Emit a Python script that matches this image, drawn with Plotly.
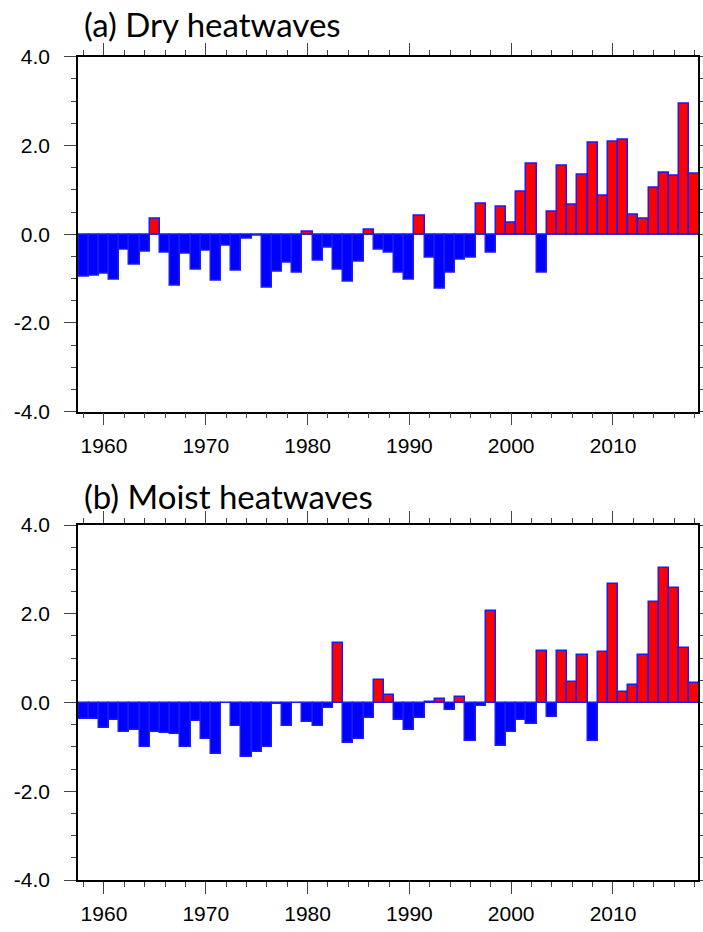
import plotly.graph_objects as go

years = list(range(1958, 2019))

dry = [-0.96, -0.93, -0.90, -1.02, -0.35, -0.69, -0.39, 0.35, -0.41, -1.17,
       -0.45, -0.79, -0.38, -1.05, -0.26, -0.83, -0.11, -0.04, -1.20, -0.84,
       -0.64, -0.86, 0.06, -0.59, -0.30, -0.80, -1.08, -0.63, 0.11, -0.34,
       -0.41, -0.87, -1.02, 0.42, -0.54, -1.22, -0.87, -0.58, -0.54, 0.68,
       -0.42, 0.61, 0.25, 0.96, 1.59, -0.87, 0.50, 1.54, 0.66, 1.35,
       2.06, 0.87, 2.09, 2.14, 0.44, 0.35, 1.05, 1.39, 1.31, 2.94,
       1.37]

moist = [-0.37, -0.37, -0.57, -0.39, -0.66, -0.61, -1.00, -0.66, -0.68, -0.71,
         -1.00, -0.41, -0.83, -1.17, -0.01, -0.53, -1.22, -1.12, -1.00, -0.04,
         -0.52, -0.02, -0.44, -0.53, -0.12, 1.33, -0.92, -0.82, -0.34, 0.51,
         0.18, -0.40, -0.61, -0.35, 0.02, 0.08, -0.16, 0.13, -0.86, -0.08,
         2.07, -0.97, -0.67, -0.40, -0.48, 1.15, -0.32, 1.16, 0.47, 1.07,
         -0.86, 1.13, 2.67, 0.23, 0.40, 1.07, 2.27, 3.03, 2.57, 1.22,
         0.45]

titles = ["(a) Dry heatwaves", "(b) Moist heatwaves"]
y_ticks = [-4, -2, 0, 2, 4]
y_ticklabels = ["-4.0", "-2.0", "0.0", "2.0", "4.0"]
x_ticks = [1960, 1970, 1980, 1990, 2000, 2010]

W, H = 703, 932
L, R = 77.5, 4.5
plot_w = W - L - R

def col(v):
    return "#ff0000" if v > 0 else "#0000ff"

fig = go.Figure()
for i, (vals, ax) in enumerate([(dry, ""), (moist, "2")]):
    fig.add_trace(go.Bar(
        x=years, y=vals, width=1.0,
        marker=dict(color=[col(v) for v in vals],
                    line=dict(color="#1a1aff", width=1.5)),
        xaxis="x" + ax, yaxis="y" + ax, showlegend=False,
    ))

# pixel domains
dom_a = (56.7, 411.7)
dom_b = (525.0, 880.0)

def ydom(d):
    return [1 - d[1] / H, 1 - d[0] / H]

common_x = dict(
    range=[1957.45, 2018.35], tickmode="array", tickvals=x_ticks,
    ticktext=[str(t) for t in x_ticks],
    ticks="outside", ticklen=12, tickwidth=1, tickcolor="#444",
    showline=True, linecolor="black", linewidth=1.5, mirror="allticks",
    showgrid=False, zeroline=False, automargin=False,
    minor=dict(dtick=2, tick0=1958, ticks="outside", ticklen=5, tickwidth=1,
               tickcolor="#444", showgrid=False),
    tickfont=dict(family="Liberation Sans, Arial", size=21, color="black"),
    ticklabelstandoff=2,
    domain=[0, 1],
)
common_y = dict(
    range=[-4, 4], tickmode="array", tickvals=y_ticks, ticktext=y_ticklabels,
    ticks="outside", ticklen=12, tickwidth=1, tickcolor="#444",
    showline=True, linecolor="black", linewidth=1.5, mirror="allticks",
    showgrid=False, zeroline=True, zerolinecolor="#555", zerolinewidth=1,
    automargin=False,
    minor=dict(dtick=0.5, tick0=0, ticks="outside", ticklen=5, tickwidth=1,
               tickcolor="#444", showgrid=False),
    tickfont=dict(family="Liberation Sans, Arial", size=21, color="black"),
    ticklabelstandoff=10,
)

fig.update_layout(
    width=W, height=H,
    margin=dict(l=L, r=R, t=0, b=0, autoexpand=False),
    paper_bgcolor="white", plot_bgcolor="white",
    bargap=0,
    xaxis=dict(common_x, anchor="y"),
    yaxis=dict(common_y, domain=ydom(dom_a), anchor="x"),
    xaxis2=dict(common_x, anchor="y2"),
    yaxis2=dict(common_y, domain=ydom(dom_b), anchor="x2"),
)

title_y = [24, 496]
for t, ty in zip(titles, title_y):
    fig.add_annotation(
        text=t, xref="paper", yref="paper",
        x=(82 - L) / plot_w, y=1 - ty / H,
        xanchor="left", yanchor="middle", showarrow=False,
        font=dict(family="Lato, Noto Sans", size=33, color="black"),
    )

fig.write_html(
    "out.html",
    config={"displayModeBar": False},
    post_script="document.body.style.margin='0';document.body.style.overflow='hidden';",
)
